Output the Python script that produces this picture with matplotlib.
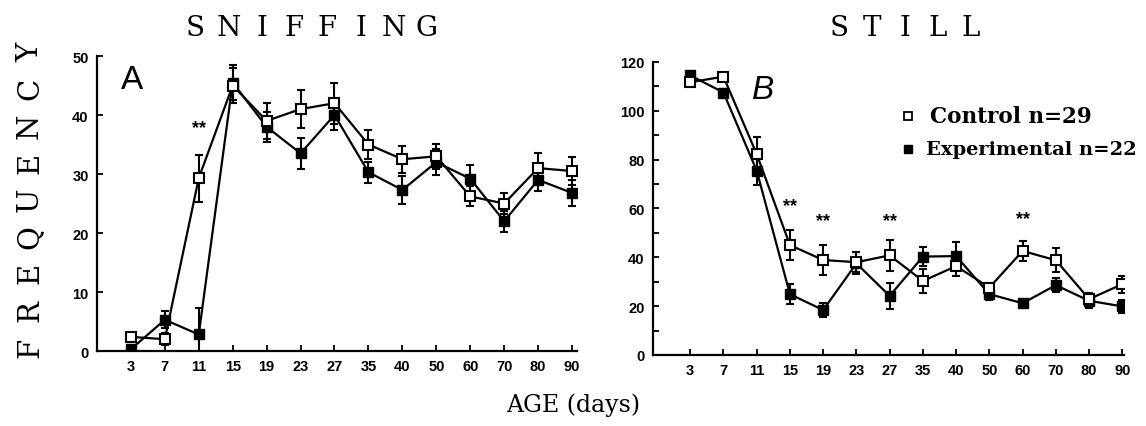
import numpy as np
import matplotlib
matplotlib.use('Agg')
import matplotlib.pyplot as plt

# age categories (days), equally spaced on the axis
ages = ['3', '7', '11', '15', '19', '23', '27', '35', '40', '50', '60', '70', '80', '90']

# Panel A - sniffing
sniff_ctrl = [2.4, 2.0, 29.3, 45.0, 39.0, 41.0, 42.0, 35.0, 32.5, 33.0, 26.2, 25.0, 31.0, 30.5]
sniff_ctrl_err = [0.4, 1.0, 4.0, 3.0, 3.0, 3.2, 3.5, 2.5, 2.3, 2.1, 1.7, 1.8, 2.5, 2.3]
sniff_exp = [0.3, 5.3, 2.8, 45.5, 38.0, 33.5, 40.0, 30.3, 27.3, 32.0, 29.2, 22.0, 29.0, 26.8]
sniff_exp_err = [0.3, 1.4, 4.5, 3.0, 2.5, 2.6, 2.5, 1.8, 2.3, 2.2, 2.4, 1.8, 1.8, 2.2]

# Panel B - still
still_ctrl = [111.7, 114.0, 82.3, 45.0, 38.9, 38.0, 40.8, 30.3, 36.4, 27.6, 42.6, 38.8, 22.9, 29.0]
still_ctrl_err = [1.0, 1.0, 7.0, 6.0, 6.0, 4.0, 6.3, 4.8, 4.0, 2.0, 4.2, 5.0, 2.0, 3.5]
still_exp = [114.5, 107.5, 75.5, 24.9, 18.4, 37.5, 24.2, 40.3, 40.5, 24.9, 21.2, 28.6, 22.2, 19.9]
still_exp_err = [1.0, 1.5, 6.0, 4.0, 3.0, 4.5, 5.2, 4.0, 5.8, 2.5, 1.5, 3.0, 3.0, 2.5]

# significance marks: (index of age, height)
sniff_stars = [(2, 37.8)]
still_stars = [(3, 61), (4, 55), (6, 55), (10, 56)]

serif = 'DejaVu Serif'
plt.rcParams['font.family'] = 'Liberation Sans'

W, H = 1146, 427
fig = plt.figure(figsize=(W / 100, H / 100), dpi=100)
axA = fig.add_axes([0.0846, 0.1756, 0.4190, 0.6909])
axB = fig.add_axes([0.5698, 0.1663, 0.4110, 0.6862])

x = np.arange(len(ages))


def spaced(word, xc, yc, step, size, rot=0):
    # letter-spaced caption centred on (xc, yc), pixels from the top-left corner
    n = len(word)
    for k, ch in enumerate(word):
        off = (k - (n - 1) / 2) * step
        if rot:
            px, py = xc, yc - off   # rotated text reads bottom to top
        else:
            px, py = xc + off, yc
        fig.text(px / W, 1 - py / H, ch, fontsize=size, family=serif,
                 ha='center', va='center', rotation=rot)


def draw(ax, ctrl, ctrl_err, exp, exp_err, stars):
    ax.errorbar(x, exp, yerr=exp_err, color='black', lw=1.6, marker='s', ms=7.5,
                mfc='black', mec='black', capsize=3, elinewidth=1.5, capthick=1.5, zorder=3)
    ax.errorbar(x, ctrl, yerr=ctrl_err, color='black', lw=1.6, marker='s', ms=7,
                mfc='white', mec='black', mew=1.5, capsize=3, elinewidth=1.5, capthick=1.5, zorder=4)
    for i, h in stars:
        ax.text(i, h, '**', ha='center', va='center', fontsize=13, fontweight='bold')
    ax.spines['top'].set_visible(False)
    ax.spines['right'].set_visible(False)
    ax.spines['left'].set_linewidth(1.6)
    ax.spines['bottom'].set_linewidth(1.6)
    ax.set_xticks(x)
    ax.set_xticklabels(ages)
    ax.tick_params(direction='in', length=4, width=1.3, labelsize=10.5, pad=6)
    for lab in ax.get_xticklabels() + ax.get_yticklabels():
        lab.set_fontweight('bold')


draw(axA, sniff_ctrl, sniff_ctrl_err, sniff_exp, sniff_exp_err, sniff_stars)
axA.set_xlim(-1.0, 13.15)
axA.set_ylim(0, 50)
axA.set_yticks([0, 10, 20, 30, 40, 50])
axA.text(0.05, 0.92, 'A', transform=axA.transAxes, fontsize=24, va='center', ha='left')

draw(axB, still_ctrl, still_ctrl_err, still_exp, still_exp_err, still_stars)
axB.set_xlim(-1.12, 13.05)
axB.set_ylim(0, 120)
axB.set_yticks([0, 20, 40, 60, 80, 100, 120])
axB.set_yticks([10, 30, 50, 70, 90, 110], minor=True)
axB.tick_params(which='minor', direction='in', length=4, width=1.3)
axB.text(0.21, 0.905, 'B', transform=axB.transAxes, fontsize=24, va='center',
         ha='left', style='italic')

# legend drawn as text like the original
axB.plot([0.541], [0.816], transform=axB.transAxes, marker='s', ms=5.5, mfc='white',
         mec='black', mew=1.3, ls='none', clip_on=False)
axB.plot([0.541], [0.703], transform=axB.transAxes, marker='s', ms=6, mfc='black',
         mec='black', ls='none', clip_on=False)
axB.text(0.588, 0.816, 'Control n=29', transform=axB.transAxes, fontsize=15.5,
         fontweight='bold', family=serif, va='center', clip_on=False)
axB.text(0.58, 0.703, 'Experimental n=22', transform=axB.transAxes, fontsize=14,
         fontweight='bold', family=serif, va='center', clip_on=False)

spaced('SNIFFING', 311, 28, 33, 20)
spaced('STILL', 905, 28, 33, 20)
spaced('FREQUENCY', 30, 200, 36.9, 21, rot=90)
fig.text(0.5, 0.052, 'AGE (days)', fontsize=17, family=serif, ha='center', va='center')

fig.savefig('out.png', dpi=100)
